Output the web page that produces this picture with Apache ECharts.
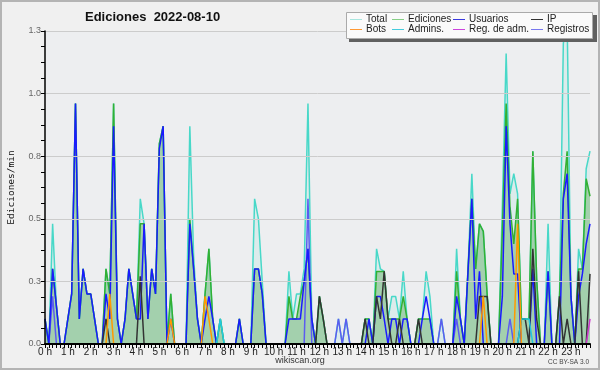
<!DOCTYPE html>
<html><head><meta charset="utf-8">
<script src="https://cdn.jsdelivr.net/npm/echarts@6/dist/echarts.min.js"></script>
<style>html,body{margin:0;padding:0;background:#f0f0f0}#c{width:600px;height:370px}</style>
</head><body><div id="c"></div>
<script>
// 10-minute bins, 0..143
const hourLabels = ['0 h','1 h','2 h','3 h','4 h','5 h','6 h','7 h','8 h','9 h','10 h','11 h','12 h','13 h','14 h','15 h','16 h','17 h','18 h','19 h','20 h','21 h','22 h','23 h'];
const total = [
 .1,0,.48,.15,0,0,.1,.2,.96,.1,.3,.2,
 .2,.1,0,0,.3,.2,.96,.1,0,.1,.3,.2,
 .1,.58,.48,.1,.3,.2,.8,.87,0,.2,0,0,
 0,0,.87,.35,.1,0,.2,.38,.1,0,.1,0,
 0,0,0,.1,0,0,0,.58,.5,.25,0,0,
 0,0,0,0,.29,.1,.2,.2,.3,.96,.1,0,
 .19,.1,0,0,0,.1,0,.1,0,0,0,0,
 .1,.1,0,.38,.3,.29,.1,.19,.19,.1,.29,.1,
 0,0,.1,.1,.29,.19,0,0,.1,0,0,0,
 .38,.1,0,.3,.68,.3,.48,.45,.2,0,0,0,
 .55,1.16,.6,.68,.6,.1,.1,.1,.77,.26,0,0,
 .48,0,0,.19,1.2,1.3,.19,0,.38,.3,.7,.77];
const ediciones = [
 .1,0,.3,.15,0,0,.1,.2,.96,.1,.3,.2,
 .2,.1,0,0,.3,.2,.96,.1,0,.1,.3,.2,
 .1,.48,.48,.1,.3,.2,.8,.87,0,.2,0,0,
 0,0,.5,.3,.1,0,.2,.38,.1,0,.1,0,
 0,0,0,.1,0,0,0,.3,.3,.2,0,0,
 0,0,0,0,.19,.1,.1,.19,.25,.38,.1,0,
 .19,.1,0,0,0,0,0,0,0,0,0,0,
 .1,.1,0,.29,.29,.29,.1,.1,.1,.1,.19,.1,
 0,0,.1,.1,.1,.1,0,0,0,0,0,0,
 .29,.1,0,.3,.58,.3,.48,.45,.2,0,0,0,
 .45,.96,.55,.4,.58,.1,.1,.1,.77,.26,0,0,
 .29,0,0,.19,.6,.77,.19,0,.3,.3,.66,.59];
const usuarios = [
 .1,0,.3,.15,0,0,.1,.2,.96,.1,.3,.2,
 .2,.1,0,0,.2,.1,.87,.1,0,.1,.3,.2,
 .1,.1,.48,.1,.3,.2,.78,.87,0,.1,0,0,
 0,0,.48,.3,.1,0,.1,.19,.1,0,0,0,
 0,0,0,.1,0,0,0,.3,.3,.2,0,0,
 0,0,0,0,.1,.1,.1,.1,.25,.38,.1,0,
 0,0,0,0,0,0,0,0,0,0,0,0,
 0,.1,0,.19,.19,.1,0,.1,.1,0,.1,.1,
 0,0,0,.1,.19,.1,0,0,0,0,0,0,
 .19,.1,0,.29,.58,.1,.29,0,0,0,0,0,
 .19,.87,.48,.28,.28,0,0,0,.3,0,0,0,
 .29,0,0,0,.58,.68,.19,0,.19,.28,.4,.48];
const ip = [
 0,0,0,0,0,0,0,0,0,0,0,0,
 0,0,0,0,.1,0,0,0,0,0,0,0,
 0,.27,0,0,0,0,0,0,0,0,0,0,
 0,0,0,0,0,0,0,0,0,0,0,0,
 0,0,0,0,0,0,0,0,0,0,0,0,
 0,0,0,0,0,0,0,0,0,0,0,0,
 .19,.1,0,0,0,0,0,0,0,0,0,0,
 .1,0,0,.19,.1,.29,.1,0,0,.1,0,0,
 0,0,.1,0,0,0,0,0,0,0,0,0,
 0,0,0,0,0,0,.19,.19,.19,0,0,0,
 0,0,0,0,0,.1,.1,0,.38,.1,0,0,
 0,0,0,.19,0,.1,0,0,.29,0,0,.28];
const bots = [
 0,0,0,0,0,0,0,0,0,0,0,0,
 0,0,0,0,0,.2,0,0,0,0,0,0,
 0,0,0,0,0,0,0,0,0,.1,0,0,
 0,0,0,0,0,0,.19,.1,0,0,0,0,
 0,0,0,0,0,0,0,0,0,0,0,0,
 0,0,0,0,0,0,0,0,0,0,0,0,
 0,0,0,0,0,0,0,0,0,0,0,0,
 0,0,0,0,0,0,0,0,0,0,0,0,
 0,0,0,0,0,0,0,0,0,0,0,0,
 0,0,0,0,0,0,0,.19,0,0,0,0,
 0,0,0,0,.48,0,0,0,0,0,0,0,
 0,0,0,0,0,0,0,0,0,0,0,0];
const admins = [
 0,0,0,0,0,0,0,0,0,0,0,0,
 0,0,0,0,0,0,0,0,0,0,0,0,
 0,0,0,0,0,0,0,0,0,0,0,0,
 0,0,0,0,0,0,0,0,0,0,.1,0,
 0,0,0,0,0,0,0,0,0,0,0,0,
 0,0,0,0,0,0,0,0,0,0,0,0,
 0,0,0,0,0,0,0,0,0,0,0,0,
 0,0,0,0,0,0,0,0,0,0,0,0,
 0,0,0,0,0,0,0,0,0,0,0,0,
 0,0,0,0,0,0,0,0,0,0,0,0,
 0,0,0,0,0,.1,.1,.1,0,0,0,0,
 0,0,0,0,0,0,0,0,0,0,0,0];
const regAdm = [
 0,0,0,0,0,0,0,0,0,0,0,0,
 0,0,0,0,0,0,0,0,0,0,0,0,
 0,0,0,0,0,0,0,0,0,0,0,0,
 0,0,0,0,0,0,0,0,0,0,0,0,
 0,0,0,0,0,0,0,0,0,0,0,0,
 0,0,0,0,0,0,0,0,0,0,0,0,
 0,0,0,0,0,0,0,0,0,0,0,0,
 0,0,0,0,0,0,0,0,0,0,0,0,
 0,0,0,0,0,0,0,0,0,0,0,0,
 0,0,0,0,0,0,0,0,0,0,0,0,
 0,0,0,0,0,0,0,0,0,0,0,0,
 0,0,0,0,0,0,0,0,0,0,0,.1];
const registros = [
 0,0,.19,0,0,0,0,0,0,0,0,0,
 0,0,0,0,0,0,0,0,0,0,0,0,
 0,0,0,0,0,0,0,0,0,0,0,0,
 0,0,0,0,0,0,0,0,0,0,0,0,
 0,0,0,0,0,0,0,0,0,0,0,0,
 0,0,0,0,0,0,0,0,0,.58,0,0,
 0,0,0,0,0,.1,0,.1,0,0,0,0,
 0,0,0,0,0,0,0,0,0,0,0,0,
 0,0,0,0,0,0,0,0,.1,0,0,0,
 .1,0,0,0,0,0,0,0,0,0,0,0,
 0,0,.1,0,0,0,0,0,0,0,0,0,
 0,0,0,0,0,0,0,0,0,0,0,0];
const yTicks = [0, 0.25, 0.5, 0.75, 1.0, 1.25];

const toXY = arr => arr.map((v, i) => [i, v]);
const SANS = 'Liberation Sans';
function ln(name, data, color, extra) {
  return Object.assign({
    name, type: 'line', data: toXY(data), symbol: 'none', silent: true,
    lineStyle: { color, width: 1.5 }, itemStyle: { color }, animation: false
  }, extra || {});
}
const chart = echarts.init(document.getElementById('c'), null, { renderer: 'canvas' });
const legendItems = [
  ['Total', '#a8e6df', 350, 19], ['Ediciones', '#86cf86', 392, 19], ['Usuarios', '#3a3adf', 453, 19], ['IP', '#333333', 531, 19],
  ['Bots', '#ff9933', 350, 29], ['Admins.', '#44ccdd', 392, 29], ['Reg. de adm.', '#cc44dd', 453, 29], ['Registros', '#7777ee', 531, 29]
];
const graphics = [
  { type: 'rect', shape: { x: 1, y: 1, width: 598, height: 368 }, style: { fill: 'none', stroke: '#b4b4b4', lineWidth: 2 }, z: 100 },
  { type: 'rect', shape: { x: 349, y: 15, width: 248, height: 27 }, style: { fill: '#606060' }, z: 50 },
  { type: 'rect', shape: { x: 346.5, y: 12.5, width: 246, height: 26 }, style: { fill: '#fafafa', stroke: '#aaaaaa', lineWidth: 1 }, z: 51 },
  { type: 'text', x: 300, y: 361, style: { text: 'wikiscan.org', font: '9px ' + SANS, fill: '#333', textAlign: 'center', textVerticalAlign: 'middle' }, z: 60 },
  { type: 'text', x: 589, y: 362, style: { text: 'CC BY-SA 3.0', font: '6.5px ' + SANS, fill: '#444', textAlign: 'right', textVerticalAlign: 'middle' }, z: 60 }
];
legendItems.forEach(([t, c, x, y]) => {
  graphics.push({ type: 'line', shape: { x1: x, y1: y + 0.5, x2: x + 12, y2: y + 0.5 }, style: { stroke: c, lineWidth: 1 }, z: 52 });
  graphics.push({ type: 'text', x: x + 16, y: y + 0.5, style: { text: t, font: '10px ' + SANS, fill: '#222', textVerticalAlign: 'middle' }, z: 52 });
});
chart.setOption({
  animation: false,
  backgroundColor: '#f0f0f0',
  title: { text: 'Ediciones  2022-08-10', left: 80, top: 6, textStyle: { fontFamily: SANS, fontSize: 13, fontWeight: 'bold', color: '#111' } },
  grid: { left: 45, right: 10, top: 31, bottom: 26, show: true, backgroundColor: '#edeef0', borderWidth: 0, containLabel: false, outerBoundsMode: 'none' },
  xAxis: {
    type: 'value', min: 0, max: 143, interval: 6, z: 10,
    axisLine: { show: true, onZero: false, lineStyle: { color: '#000', width: 2 } },
    axisTick: { show: true, length: 4, lineStyle: { color: '#000' } },
    minorTick: { show: true, splitNumber: 6, length: 4, lineStyle: { color: '#000' } },
    splitLine: { show: false },
    axisLabel: { margin: 3, fontFamily: SANS, fontSize: 10, color: '#222',
      formatter: v => (v % 6 === 0 && v / 6 < hourLabels.length) ? hourLabels[v / 6] : '' }
  },
  yAxis: {
    type: 'value', min: yTicks[0], max: yTicks[yTicks.length - 1], interval: 0.25, z: 10,
    name: 'Ediciones/min', nameLocation: 'middle', nameGap: 28, nameRotate: 90,
    nameTextStyle: { fontFamily: 'DejaVu Sans Mono', fontSize: 9.5, color: '#111' },
    axisLine: { show: true, lineStyle: { color: '#000', width: 1.5 } },
    axisTick: { show: true, length: 4, lineStyle: { color: '#000' } },
    minorTick: { show: true, splitNumber: 4, length: 4, lineStyle: { color: '#000' } },
    splitLine: { show: true, lineStyle: { color: '#cccccc', width: 1 } },
    axisLabel: { margin: 4, fontFamily: SANS, fontSize: 9, color: '#666', formatter: v => v.toFixed(1) }
  },
  series: [
    ln('Total', total, '#48d8c8', { areaStyle: { color: 'rgba(72,216,200,0.15)' } }),
    ln('Ediciones', ediciones, '#33b033', { areaStyle: { color: 'rgba(60,160,60,0.5)' } }),
    ln('Registros', registros, '#5c5cf0'),
    ln('Usuarios', usuarios, '#1a1aff'),
    ln('IP', ip, '#333333'),
    ln('Admins.', admins, '#22c8e0'),
    ln('Bots', bots, '#ff9900'),
    ln('Reg. de adm.', regAdm, '#cc33cc')
  ],
  graphic: graphics
});
</script></body></html>
